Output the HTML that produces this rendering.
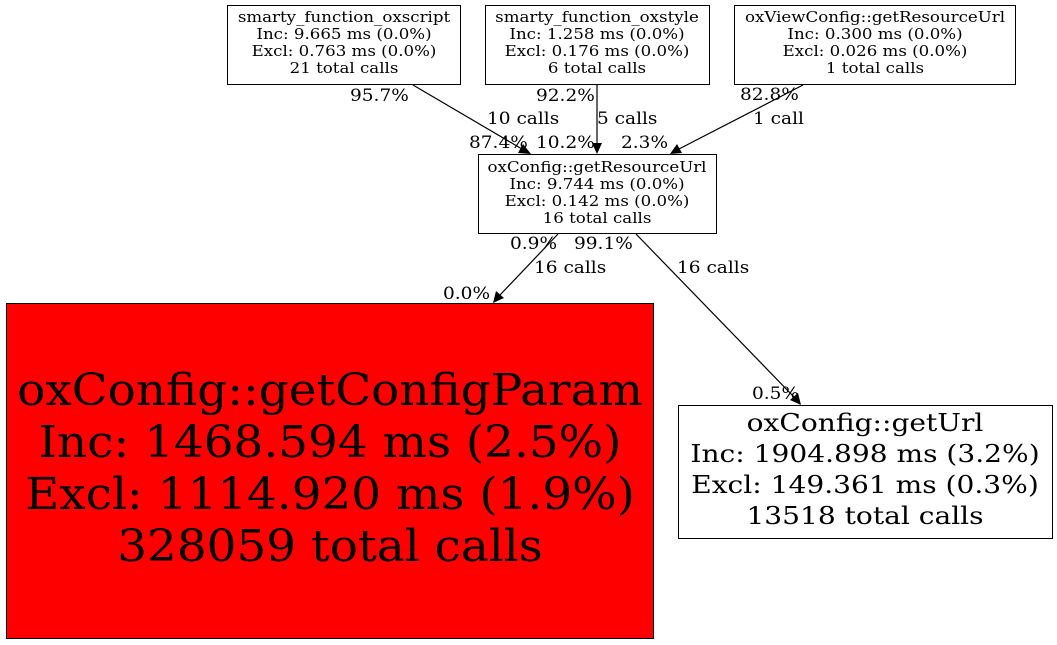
<!DOCTYPE html>
<html><head><meta charset="utf-8"><style>body{margin:0;background:#fff}svg{display:block}</style></head><body>
<svg width="1057" height="645" viewBox="0 0 1057 645" xmlns="http://www.w3.org/2000/svg" font-family="'DejaVu Serif','Liberation Serif',serif">
<rect width="1057" height="645" fill="#fff"/>
<g fill="#fff" stroke="#000" stroke-width="1">
<rect x="227.5" y="5.5" width="233" height="79"/>
<rect x="485.5" y="5.5" width="224" height="79"/>
<rect x="734.5" y="5.5" width="281" height="79"/>
<rect x="478.5" y="154.5" width="238" height="79"/>
<rect x="6.5" y="303.5" width="647" height="335" fill="#ff0000"/>
<rect x="678.5" y="405.5" width="374" height="133"/>
</g>
<g stroke="#000" stroke-width="1.2" fill="none">
<line x1="413" y1="85" x2="522" y2="149"/>
<line x1="597" y1="85" x2="597" y2="144"/>
<line x1="803" y1="85" x2="679" y2="149"/>
<line x1="558" y1="234" x2="500" y2="295"/>
<line x1="636" y1="234" x2="794" y2="397"/>
</g>
<g fill="#000">
<polygon points="531,154 518,153 523,144"/>
<polygon points="597,154 592,143 602,143"/>
<polygon points="670,154 677,144 682,153"/>
<polygon points="493,303 496,291 504,298"/>
<polygon points="801,405 790,400 798,393"/>
</g>
<g font-size="15" text-anchor="middle">
<g transform="translate(344,0) scale(1.11,1)"><text x="0" y="22">smarty_function_oxscript</text><text x="0" y="39">Inc: 9.665 ms (0.0%)</text><text x="0" y="56">Excl: 0.763 ms (0.0%)</text><text x="0" y="73">21 total calls</text></g>
<g transform="translate(597,0) scale(1.11,1)"><text x="0" y="22">smarty_function_oxstyle</text><text x="0" y="39">Inc: 1.258 ms (0.0%)</text><text x="0" y="56">Excl: 0.176 ms (0.0%)</text><text x="0" y="73">6 total calls</text></g>
<g transform="translate(875,0) scale(1.11,1)"><text x="0" y="22">oxViewConfig::getResourceUrl</text><text x="0" y="39">Inc: 0.300 ms (0.0%)</text><text x="0" y="56">Excl: 0.026 ms (0.0%)</text><text x="0" y="73">1 total calls</text></g>
<g transform="translate(597,0) scale(1.11,1)"><text x="0" y="172">oxConfig::getResourceUrl</text><text x="0" y="189">Inc: 9.744 ms (0.0%)</text><text x="0" y="206">Excl: 0.142 ms (0.0%)</text><text x="0" y="223">16 total calls</text></g>
</g>
<g font-size="17">
<text transform="translate(350,101) scale(1.09,1)">95.7%</text>
<text transform="translate(487,124) scale(1.09,1)">10 calls</text>
<text transform="translate(469,148) scale(1.09,1)">87.4%</text>
<text transform="translate(536,148) scale(1.09,1)">10.2%</text>
<text transform="translate(536,101) scale(1.09,1)">92.2%</text>
<text transform="translate(597,124) scale(1.09,1)">5 calls</text>
<text transform="translate(621,148) scale(1.09,1)">2.3%</text>
<text transform="translate(740,100) scale(1.09,1)">82.8%</text>
<text transform="translate(753,124) scale(1.09,1)">1 call</text>
<text transform="translate(510,249) scale(1.09,1)">0.9%</text>
<text transform="translate(574,249) scale(1.09,1)">99.1%</text>
<text transform="translate(534,273) scale(1.09,1)">16 calls</text>
<text transform="translate(677,273) scale(1.09,1)">16 calls</text>
<text transform="translate(443,299) scale(1.09,1)">0.0%</text>
<text transform="translate(752,399) scale(1.09,1)">0.5%</text>
</g>
<g font-size="44" text-anchor="middle" transform="translate(330,0) scale(1.065,1)">
<text x="0" y="405">oxConfig::getConfigParam</text>
<text x="0" y="457">Inc: 1468.594 ms (2.5%)</text>
<text x="0" y="509">Excl: 1114.920 ms (1.9%)</text>
<text x="0" y="561">328059 total calls</text>
</g>
<g font-size="24" text-anchor="middle" transform="translate(865,0) scale(1.17,1)">
<text x="0" y="431">oxConfig::getUrl</text>
<text x="0" y="462">Inc: 1904.898 ms (3.2%)</text>
<text x="0" y="493">Excl: 149.361 ms (0.3%)</text>
<text x="0" y="524">13518 total calls</text>
</g>
</svg>
</body></html>
